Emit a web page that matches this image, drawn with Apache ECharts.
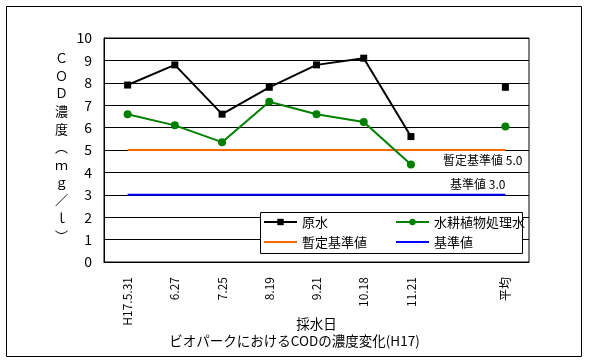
<!DOCTYPE html>
<html><head><meta charset="utf-8">
<script src="https://cdn.jsdelivr.net/npm/echarts@6/dist/echarts.min.js"></script>
<style>html,body{margin:0;padding:0;background:#fff}#c{width:589px;height:363px}</style>
</head><body><div id="c"></div>
<script>
const categories = ['H17.5.31','6.27','7.25','8.19','9.21','10.18','11.21','','平均'];
const rawWater = [7.9, 8.8, 6.6, 7.8, 8.8, 9.1, 5.6, null, 7.8];
const treatedWater = [6.6, 6.1, 5.35, 7.15, 6.6, 6.25, 4.35, null, 6.05];
const provisionalStd = [5, 5, 5, 5, 5, 5, 5, 5, 5];
const standard = [3, 3, 3, 3, 3, 3, 3, 3, 3];
const yTicks = [0,1,2,3,4,5,6,7,8,9,10];
const F = '"Noto Sans CJK JP", "Noto Sans", sans-serif';

const chart = echarts.init(document.getElementById('c'), null, {renderer: 'canvas'});
const legendText = {fontSize: 13, color: '#000', fontFamily: F, lineHeight: 14};
chart.setOption({
  animation: false,
  backgroundColor: '#fff',
  title: {text: 'ビオパークにおけるCODの濃度変化(H17)', left: 'center', top: 329,
    textStyle: {fontSize: 13.5, fontWeight: 'normal', color: '#000', fontFamily: F}},
  grid: {left: 104, right: 60, top: 38, bottom: 101, show: true, borderColor: '#000', borderWidth: 1},
  xAxis: {
    type: 'category', data: categories, boundaryGap: true,
    name: '採水日', nameLocation: 'middle', nameGap: 55, nameMoveOverlap: false,
    nameTextStyle: {fontSize: 13.5, color: '#000', fontFamily: F},
    axisLine: {lineStyle: {color: '#000', width: 1}},
    axisTick: {inside: true, length: 4, lineStyle: {color: '#000'}},
    axisLabel: {rotate: 90, fontSize: 12, color: '#000', margin: 15, fontFamily: F, interval: 0}
  },
  yAxis: {
    type: 'value', min: 0, max: 10, interval: 1,
    axisLine: {show: true, lineStyle: {color: '#000', width: 1}},
    axisTick: {show: false},
    axisLabel: {fontSize: 14, color: '#000', margin: 12, fontFamily: F,
      formatter: v => yTicks.includes(v) ? String(v) : ''},
    splitLine: {lineStyle: {color: '#000', width: 1}}
  },
  legend: [
    {data: ['原水', {name: '暫定基準値', itemStyle: {opacity: 0}}], orient: 'vertical', left: 263, top: 215, padding: 0,
     itemWidth: 33, itemHeight: 8, itemGap: 6, textStyle: legendText, z: 10},
    {data: ['水耕植物処理水', {name: '基準値', itemStyle: {opacity: 0}}], orient: 'vertical', left: 395, top: 215, padding: 0,
     itemWidth: 33, itemHeight: 8, itemGap: 6, textStyle: legendText, z: 10}
  ],
  graphic: [
    {type: 'rect', shape: {x: 6.5, y: 6.5, width: 575, height: 350}, style: {fill: 'none', stroke: '#000', lineWidth: 1}, z: 1, silent: true},
    {type: 'rect', shape: {x: 260.5, y: 212.5, width: 262, height: 41}, style: {fill: '#fff', stroke: '#000', lineWidth: 1}, z: 5, silent: true},
    {type: 'text', left: 55, top: 49, z: 5,
     style: {text: 'Ｃ\nＯ\nＤ\n濃\n度\n︵\nｍ\nｇ\n／\nｌ\n︶', fontSize: 13, lineHeight: 17.8, fill: '#000', fontFamily: F, align: 'center'}}
  ],
  series: [
    {name: '原水', type: 'line', data: rawWater, connectNulls: false, symbol: 'rect', symbolSize: 7,
     lineStyle: {color: '#000', width: 2}, itemStyle: {color: '#000'}, z: 4},
    {name: '水耕植物処理水', type: 'line', data: treatedWater, connectNulls: false, symbol: 'circle', symbolSize: 8,
     lineStyle: {color: '#008000', width: 2}, itemStyle: {color: '#008000'}, z: 4},
    {name: '暫定基準値', type: 'line', data: provisionalStd, symbol: 'none',
     lineStyle: {color: '#ff6600', width: 2}, itemStyle: {color: '#ff6600'}, z: 3,
     endLabel: {show: true, formatter: '暫定基準値 5.0', color: '#000', fontSize: 12, fontFamily: F,
       distance: 0, align: 'right', verticalAlign: 'middle', offset: [17, 10]}},
    {name: '基準値', type: 'line', data: standard, symbol: 'none',
     lineStyle: {color: '#0000ff', width: 2}, itemStyle: {color: '#0000ff'}, z: 3,
     endLabel: {show: true, formatter: '基準値 3.0', color: '#000', fontSize: 12, fontFamily: F,
       distance: 0, align: 'right', verticalAlign: 'middle', offset: [0, -10]}}
  ]
});
</script></body></html>
